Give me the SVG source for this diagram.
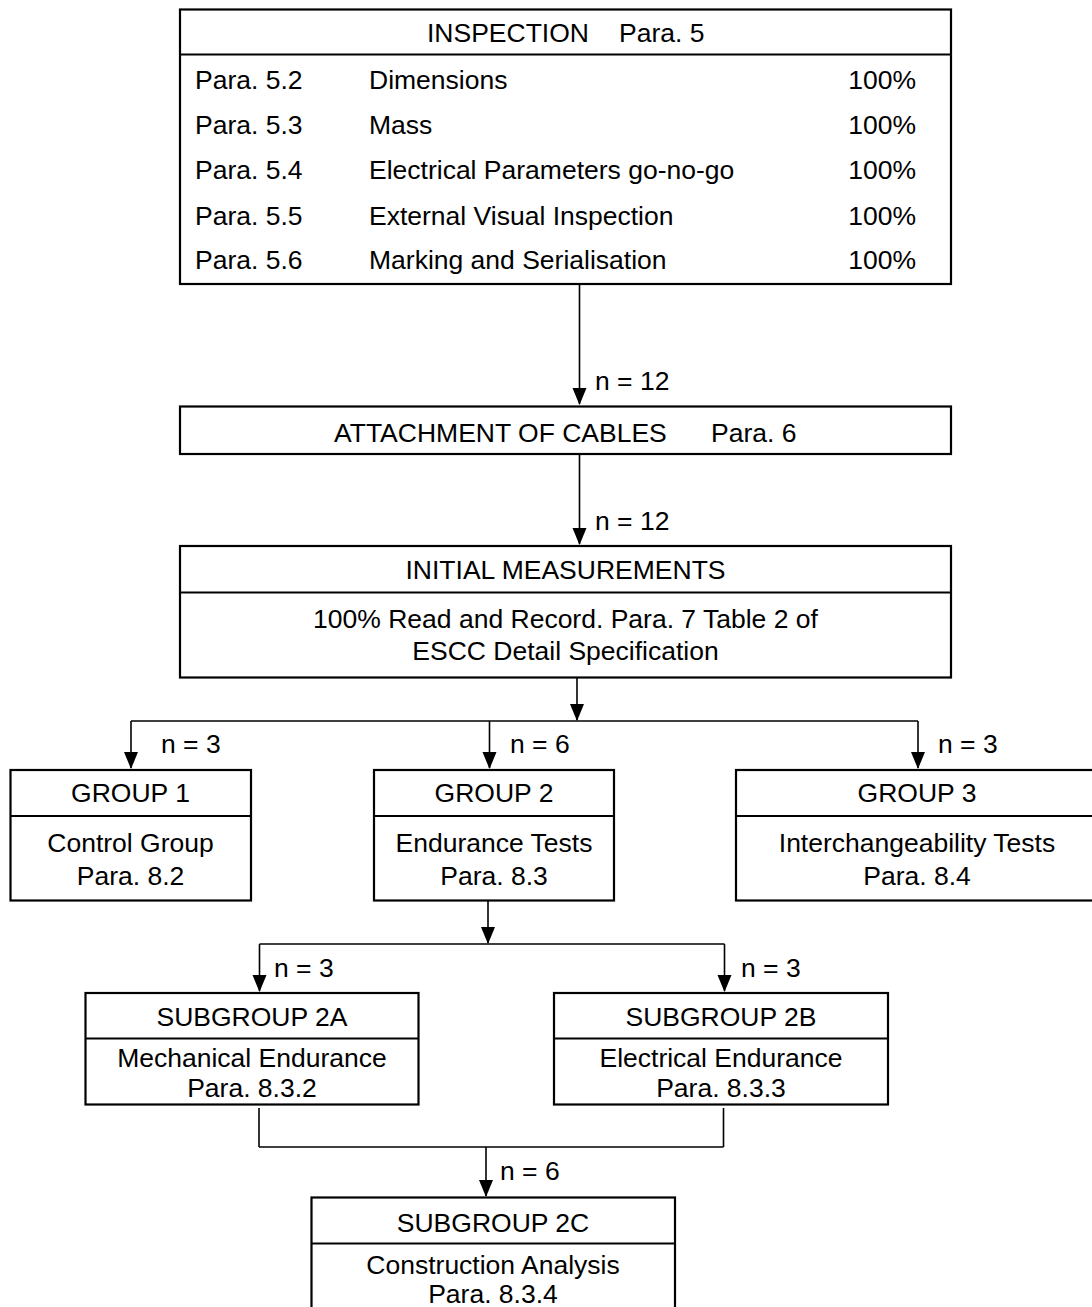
<svg xmlns="http://www.w3.org/2000/svg" width="1092" height="1307" viewBox="0 0 1092 1307">
<style>
text{font-family:"Liberation Sans",Arial,sans-serif;font-size:26.5px;fill:#000}
.c{text-anchor:middle}
.e{text-anchor:end}
.box{fill:#fff;stroke:#000;stroke-width:2.2}
.div{stroke:#000;stroke-width:2.2}
.ln{stroke:#000;stroke-width:1.6;fill:none}
.ah{fill:#000}
</style>
<rect width="1092" height="1307" fill="#fff"/>

<g id="connectors">
<line class="ln" x1="579.5" y1="285" x2="579.5" y2="404"/>
<path class="ah" d="M572.5,388 L586.5,388 L579.5,405 Z"/>
<line class="ln" x1="579.5" y1="455" x2="579.5" y2="544"/>
<path class="ah" d="M572.5,528 L586.5,528 L579.5,545 Z"/>
<line class="ln" x1="577" y1="678" x2="577" y2="720"/>
<path class="ah" d="M570,704 L584,704 L577,721 Z"/>
<line class="ln" x1="131" y1="721" x2="918" y2="721"/>
<line class="ln" x1="131" y1="721" x2="131" y2="768"/>
<path class="ah" d="M124,752 L138,752 L131,769 Z"/>
<line class="ln" x1="489.5" y1="721" x2="489.5" y2="768"/>
<path class="ah" d="M482.5,752 L496.5,752 L489.5,769 Z"/>
<line class="ln" x1="918" y1="721" x2="918" y2="768"/>
<path class="ah" d="M911,752 L925,752 L918,769 Z"/>
<line class="ln" x1="488" y1="901" x2="488" y2="943"/>
<path class="ah" d="M481,927 L495,927 L488,944 Z"/>
<line class="ln" x1="259.5" y1="944" x2="724.5" y2="944"/>
<line class="ln" x1="259.5" y1="944" x2="259.5" y2="991"/>
<path class="ah" d="M252.5,975 L266.5,975 L259.5,992 Z"/>
<line class="ln" x1="724.5" y1="944" x2="724.5" y2="991"/>
<path class="ah" d="M717.5,975 L731.5,975 L724.5,992 Z"/>
<line class="ln" x1="259" y1="1108" x2="259" y2="1147"/>
<line class="ln" x1="723.5" y1="1108" x2="723.5" y2="1147"/>
<line class="ln" x1="259" y1="1147" x2="723.5" y2="1147"/>
<line class="ln" x1="486" y1="1147" x2="486" y2="1196"/>
<path class="ah" d="M479,1180 L493,1180 L486,1197 Z"/>
<text x="595" y="390">n = 12</text>
<text x="595" y="530">n = 12</text>
<text x="161" y="753">n = 3</text>
<text x="510" y="753">n = 6</text>
<text x="938" y="753">n = 3</text>
<text x="274" y="977">n = 3</text>
<text x="741" y="977">n = 3</text>
<text x="500" y="1180">n = 6</text>
</g>

<g id="inspection">
<rect class="box" x="180" y="9.5" width="771" height="274.5"/>
<line class="div" x1="180" y1="54.5" x2="951" y2="54.5"/>
<text x="427" y="42">INSPECTION</text>
<text x="619" y="42">Para. 5</text>
<text x="195" y="89">Para. 5.2</text><text x="369" y="89">Dimensions</text><text class="e" x="916" y="89">100%</text>
<text x="195" y="134">Para. 5.3</text><text x="369" y="134">Mass</text><text class="e" x="916" y="134">100%</text>
<text x="195" y="179">Para. 5.4</text><text x="369" y="179">Electrical Parameters go-no-go</text><text class="e" x="916" y="179">100%</text>
<text x="195" y="225">Para. 5.5</text><text x="369" y="225">External Visual Inspection</text><text class="e" x="916" y="225">100%</text>
<text x="195" y="269">Para. 5.6</text><text x="369" y="269">Marking and Serialisation</text><text class="e" x="916" y="269">100%</text>
</g>

<g id="attachment">
<rect class="box" x="180" y="406.5" width="771" height="47.5"/>
<text x="334" y="441.5">ATTACHMENT OF CABLES</text>
<text x="711" y="441.5">Para. 6</text>
</g>

<g id="initial">
<rect class="box" x="180" y="546" width="771" height="131.5"/>
<line class="div" x1="180" y1="592.5" x2="951" y2="592.5"/>
<text class="c" x="565.5" y="579">INITIAL MEASUREMENTS</text>
<text class="c" x="565.5" y="628">100% Read and Record. Para. 7 Table 2 of</text>
<text class="c" x="565.5" y="660">ESCC Detail Specification</text>
</g>

<g id="group1">
<rect class="box" x="10.5" y="770" width="240.5" height="130.5"/>
<line class="div" x1="10.5" y1="816" x2="251" y2="816"/>
<text class="c" x="130.5" y="802">GROUP 1</text>
<text class="c" x="130.5" y="852">Control Group</text>
<text class="c" x="130.5" y="885">Para. 8.2</text>
</g>

<g id="group2">
<rect class="box" x="374" y="770" width="240" height="130.5"/>
<line class="div" x1="374" y1="816" x2="614" y2="816"/>
<text class="c" x="494" y="802">GROUP 2</text>
<text class="c" x="494" y="852">Endurance Tests</text>
<text class="c" x="494" y="885">Para. 8.3</text>
</g>

<g id="group3">
<rect class="box" x="736" y="770" width="362" height="130.5"/>
<line class="div" x1="736" y1="816" x2="1098" y2="816"/>
<text class="c" x="917" y="802">GROUP 3</text>
<text class="c" x="917" y="852">Interchangeability Tests</text>
<text class="c" x="917" y="885">Para. 8.4</text>
</g>

<g id="subgroup2a">
<rect class="box" x="85.5" y="993" width="333" height="111.5"/>
<line class="div" x1="85.5" y1="1038.5" x2="418.5" y2="1038.5"/>
<text class="c" x="252" y="1026">SUBGROUP 2A</text>
<text class="c" x="252" y="1067">Mechanical Endurance</text>
<text class="c" x="252" y="1096.5">Para. 8.3.2</text>
</g>

<g id="subgroup2b">
<rect class="box" x="554" y="993" width="334" height="111.5"/>
<line class="div" x1="554" y1="1038.5" x2="888" y2="1038.5"/>
<text class="c" x="721" y="1026">SUBGROUP 2B</text>
<text class="c" x="721" y="1067">Electrical Endurance</text>
<text class="c" x="721" y="1096.5">Para. 8.3.3</text>
</g>

<g id="subgroup2c">
<rect class="box" x="311.5" y="1197.5" width="363.5" height="120"/>
<line class="div" x1="311.5" y1="1243.5" x2="675" y2="1243.5"/>
<text class="c" x="493" y="1232">SUBGROUP 2C</text>
<text class="c" x="493" y="1274">Construction Analysis</text>
<text class="c" x="493" y="1303">Para. 8.3.4</text>
</g>
</svg>
